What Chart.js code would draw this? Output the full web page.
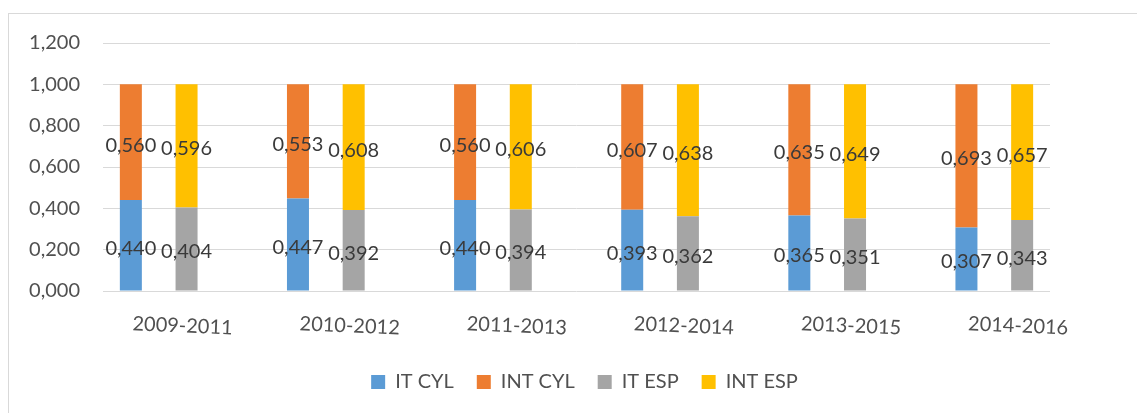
<!DOCTYPE html>
<html>
<head>
<meta charset="utf-8">
<script src="https://cdn.jsdelivr.net/npm/chart.js@4"></script>
<style>
  body { margin: 0; background: #fff; overflow: hidden; }
  #frame {
    position: absolute; left: 8px; top: 13px; width: 1200px; height: 500px;
    border: 1.5px solid #d9d9d9; box-sizing: border-box;
  }
  /* wider than the window so the centred legend lines up with the reference */
  #wrap { position: absolute; left: 0; top: 0; width: 1169px; height: 413px; }
</style>
</head>
<body>
<div id="frame"></div>
<div id="wrap"><canvas id="chart"></canvas></div>
<script>
const periods = ['2009-2011', '2010-2012', '2011-2013', '2012-2014', '2013-2015', '2014-2016'];
const itCyl = [0.440, 0.447, 0.440, 0.393, 0.365, 0.307];
const intCyl = [0.560, 0.553, 0.560, 0.607, 0.635, 0.693];
const itEsp = [0.404, 0.392, 0.394, 0.362, 0.351, 0.343];
const intEsp = [0.596, 0.608, 0.606, 0.638, 0.649, 0.657];

// each period takes three slots: CYL stack, ESP stack, empty gap
const slotCount = periods.length * 3 - 1;

const toSlots = (values, offset) => {
  const slots = Array(slotCount).fill(null);
  values.forEach((v, i) => { slots[i * 3 + offset] = v; });
  return slots;
};

const slotLabels = Array(slotCount).fill('');
periods.forEach((p, i) => { slotLabels[i * 3 + 1] = p; });

const fmt = (v) => v.toFixed(3).replace('.', ',');

const textColor = '#505050';

Chart.defaults.font.family = 'Lato';
Chart.defaults.font.size = 20;
Chart.defaults.color = textColor;

const valueLabels = {
  id: 'valueLabels',
  afterDatasetsDraw(chart) {
    const ctx = chart.ctx;
    ctx.save();
    ctx.font = '20px Lato';
    ctx.fillStyle = '#3a3a3a';
    ctx.textAlign = 'center';
    ctx.textBaseline = 'middle';
    chart.data.datasets.forEach((ds, di) => {
      chart.getDatasetMeta(di).data.forEach((bar, i) => {
        const v = ds.data[i];
        if (v === null) return;
        ctx.fillText(fmt(v), bar.x, (bar.y + bar.base) / 2 + 3);
      });
    });
    ctx.restore();
  }
};

const periodLabels = {
  id: 'periodLabels',
  afterDraw(chart) {
    const ctx = chart.ctx;
    const xScale = chart.scales.x;
    ctx.save();
    ctx.font = '20px Lato';
    ctx.fillStyle = textColor;
    ctx.textAlign = 'center';
    ctx.textBaseline = 'middle';
    periods.forEach((p, i) => {
      ctx.save();
      ctx.translate(xScale.getPixelForValue(i * 3 + 1) - 4, 326);
      ctx.rotate(0.042);
      ctx.fillText(p, 0, 0);
      ctx.restore();
    });
    ctx.restore();
  }
};

new Chart(document.getElementById('chart'), {
  type: 'bar',
  data: {
    labels: slotLabels,
    datasets: [
      { label: 'IT CYL', data: toSlots(itCyl, 0), backgroundColor: '#5B9BD5' },
      { label: 'INT CYL', data: toSlots(intCyl, 0), backgroundColor: '#ED7D31' },
      { label: 'IT ESP', data: toSlots(itEsp, 1), backgroundColor: '#A5A5A5' },
      { label: 'INT ESP', data: toSlots(intEsp, 1), backgroundColor: '#FFC000' },
    ],
  },
  options: {
    responsive: true,
    maintainAspectRatio: false,
    animation: false,
    categoryPercentage: 1,
    barPercentage: 0.395,
    layout: { padding: { left: 0, right: 0, top: 43, bottom: 11 } },
    plugins: {
      tooltip: { enabled: false },
      legend: {
        position: 'bottom',
        labels: { boxWidth: 14, boxHeight: 14, padding: 23, color: textColor, font: { size: 20 } },
      },
    },
    scales: {
      x: {
        stacked: true,
        grid: { display: false },
        border: { display: false },
        ticks: { display: false },
        afterFit: (scale) => { scale.height = 58; },
      },
      y: {
        stacked: true,
        min: 0,
        max: 1.2,
        grid: { color: '#d9d9d9', drawTicks: false },
        border: { display: false },
        ticks: { stepSize: 0.2, padding: 23, color: textColor, callback: (v) => fmt(v) },
        afterFit: (scale) => { scale.width = 103; },
      },
      pad: {
        type: 'linear',
        position: 'right',
        grid: { display: false },
        border: { display: false },
        ticks: { display: false },
        afterFit: (scale) => { scale.width = 119; },
      },
    },
  },
  plugins: [valueLabels, periodLabels],
});
</script>
</body>
</html>
